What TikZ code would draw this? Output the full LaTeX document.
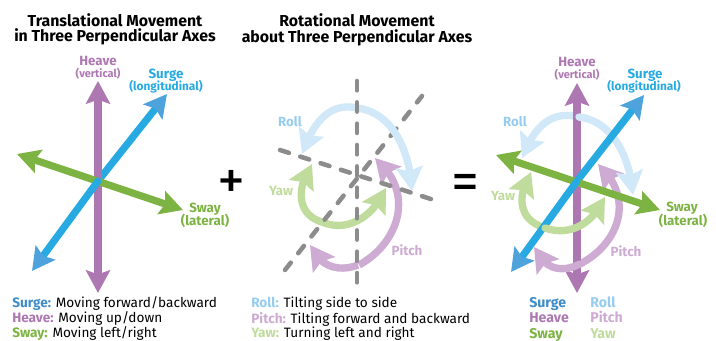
\documentclass[tikz,border=0pt]{standalone}
\usepackage{fontspec}
\setmainfont{Fira Sans}
\usetikzlibrary{arrows.meta,bending}
\definecolor{surgecol}{RGB}{39,170,225}
\definecolor{surgehead}{RGB}{79,163,220}
\definecolor{heavecol}{RGB}{173,120,178}
\definecolor{swaycol}{RGB}{124,179,66}
\definecolor{rollcol}{RGB}{208,232,248}
\definecolor{pitchcol}{RGB}{205,171,210}
\definecolor{yawcol}{RGB}{192,220,156}
\definecolor{rolltxt}{RGB}{150,204,240}
\definecolor{surgetxt}{RGB}{62,140,200}
\begin{document}
\begin{tikzpicture}[x=0.75pt,y=0.75pt,yscale=-1,xscale=1,
  bothhead/.style={line width=5.4pt,{Stealth[length=17pt,width=18pt,inset=3pt,color=#1]}-{Stealth[length=17pt,width=18pt,inset=3pt,color=#1]}},
  axisarrow/.style={line width=5.4pt,-{Stealth[length=17pt,width=18pt,inset=3pt,color=#1]}},
  rotarrow/.style={line width=5.5pt,-{Stealth[length=18pt,width=20pt,inset=3pt,flex=1]}},
  dashaxis/.style={draw={rgb,255:red,140;green,140;blue,140},line width=3.4pt,line cap=round,dash pattern=on 7pt off 9pt},
  title/.style={font=\bfseries\fontsize{11.9}{11.5}\selectfont,align=center,inner sep=0pt},
  big/.style={font=\fontsize{10}{11}\selectfont\bfseries,inner sep=0pt},
  small/.style={font=\fontsize{8.2}{9}\selectfont\bfseries,inner sep=0pt},
  smaller/.style={font=\fontsize{8.9}{9}\selectfont\bfseries,inner sep=0pt},
  legend/.style={font=\fontsize{10.2}{11}\selectfont,anchor=base west,inner sep=0pt},
  key/.style={font=\fontsize{10.6}{11}\selectfont\bfseries,anchor=base west,inner sep=0pt},
  sign/.style={font=\fontsize{42}{42}\selectfont,inner sep=0pt,anchor=base}]
\useasboundingbox (0,0) rectangle (716,341);

% Titles
\node[title] (transtitle) at (115,29.5) {Translational Movement\\in Three Perpendicular Axes};
\node[title] (rottitle) at (357,30) {Rotational Movement\\about Three Perpendicular Axes};

% Left axes
\draw[axisarrow=surgehead,draw=surgecol] (98,181) -- (167,94);
\draw[bothhead=heavecol,draw=heavecol] (98,81) -- (98,293);
\draw[bothhead=swaycol,draw=swaycol] (17,154) -- (183,210);
\draw[axisarrow=surgehead,draw=surgecol,line cap=round] (98,181) -- (32,271);

% Middle arcs and dashed axes
\draw[rotarrow,draw=yawcol] (322,222) .. controls (298,215) and (295,190) .. (312,164);
\draw[rotarrow,draw=yawcol] (322,222) .. controls (345,232) and (372,220) .. (386,188);
\draw[rotarrow,draw=pitchcol] (359,265) .. controls (396,245) and (418,195) .. (375,158);
\draw[rotarrow,draw=pitchcol] (358,265) .. controls (340,272) and (320,268) .. (310,245);
\draw[dashaxis] (285,270) -- (422,96);
\draw[dashaxis] (280,150) -- (440,202);
\draw[rotarrow,draw=rollcol] (357,108) .. controls (330,102) and (313,122) .. (302,154);
\draw[rotarrow,draw=rollcol] (357,108) .. controls (392,112) and (410,150) .. (412,191);
\draw[dashaxis] (357,81) -- (357,294);

\node[sign] (plussign) at (231,200) {\smash{+}};
\node[sign] (equalsign) at (465,201) {\smash{=}};

% Right axes and arcs
\draw[rotarrow,draw=rollcol] (578,117) .. controls (551,110) and (534,127) .. (522,158);
\draw[rotarrow,draw=pitchcol] (580,264) .. controls (617,245) and (637,200) .. (598,164);
\draw[bothhead=heavecol,draw=heavecol] (577,83) -- (577,293);
\draw[rotarrow,draw=rollcol,line cap=round] (579,117) .. controls (612,121) and (630,156) .. (633,195);
\draw[rotarrow,draw=yawcol] (545,228) .. controls (519,220) and (516,198) .. (531,172);
\draw[axisarrow=surgehead,draw=surgecol] (577,181) -- (644,95);
\draw[bothhead=swaycol,draw=swaycol] (496,155) -- (660,210);
\draw[axisarrow=surgehead,draw=surgecol,line cap=round] (577,181) -- (511,272);
\draw[rotarrow,draw=yawcol,line cap=round] (545,228) .. controls (568,236) and (592,226) .. (605,197);
\draw[rotarrow,draw=pitchcol,line cap=round] (580,264) .. controls (562,273) and (544,270) .. (534,247);

% Left labels
\node[big,text=heavecol] (heavea) at (98,61) {Heave};
\node[small,text=heavecol] (verta) at (98,73.5) {(vertical)};
\node[big,text=surgecol] (surgea) at (166,75) {Surge};
\node[smaller,text=surgecol] (longa) at (166,87) {(longitudinal)};
\node[big,text=swaycol] (swaya) at (205,209) {Sway};
\node[big,text=swaycol] (lata) at (205,221) {(lateral)};

% Middle labels
\node[big,text=rolltxt] (rollb) at (290,122) {Roll};
\node[big,text=yawcol] (yawb) at (281,191) {Yaw};
\node[big,text=pitchcol] (pitchb) at (407,250) {Pitch};

% Right labels
\node[big,text=heavecol] (heavec) at (577,62) {Heave};
\node[small,text=heavecol] (vertc) at (577,74.5) {(vertical)};
\node[big,text=surgecol] (surgec) at (645,75) {Surge};
\node[smaller,text=surgecol] (longc) at (644,87) {(longitudinal)};
\node[big,text=swaycol] (swayc) at (682,208) {Sway};
\node[big,text=swaycol] (latc) at (683,221) {(lateral)};
\node[big,text=rolltxt] (rollc) at (515,122) {Roll};
\node[big,text=yawcol] (yawc) at (503,196) {Yaw};
\node[big,text=pitchcol] (pitchc) at (626,251) {Pitch};

% Legends
\node[legend] (lega) at (12,308) {\textbf{\textcolor{surgetxt}{Surge:}} Moving forward/backward};
\node[legend] (legb) at (12,323) {\textbf{\textcolor{heavecol}{Heave:}} Moving up/down};
\node[legend] (legc) at (12,338) {\textbf{\textcolor{swaycol}{Sway:}} Moving left/right};
\node[legend] (legd) at (251,308) {\textbf{\textcolor{rolltxt}{Roll:}} Tilting side to side};
\node[legend] (lege) at (251,323.5) {\textbf{\textcolor{pitchcol}{Pitch:}} Tilting forward and backward};
\node[legend] (legf) at (251,338) {\textbf{\textcolor{yawcol}{Yaw:}} Turning left and right};
\node[key,text=surgetxt] (keya) at (529,308) {Surge};
\node[key,text=heavecol] (keyb) at (529,323) {Heave};
\node[key,text=swaycol] (keyc) at (529,338.5) {Sway};
\node[key,text=rolltxt] (keyd) at (590,308) {Roll};
\node[key,text=pitchcol] (keye) at (590,323) {Pitch};
\node[key,text=yawcol] (keyf) at (590,338.5) {Yaw};
\end{tikzpicture}
\end{document}
